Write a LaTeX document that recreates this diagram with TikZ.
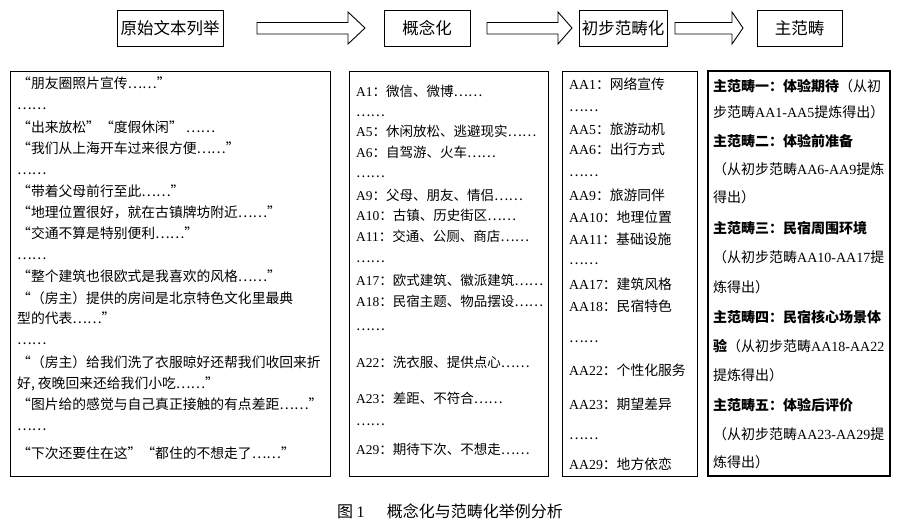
\documentclass[tikz,border=0pt]{standalone}
\usepackage{fontspec}
\setmainfont{Noto Sans CJK SC}
\newfontfamily\latf{Liberation Serif}
\newcommand\La[1]{{\latf #1}}
\newcommand\barrow[3]{\draw[blockarrow] (#1,22.5) -- (#2,22.5) -- (#2,12) -- (#3,28) -- (#2,44) -- (#2,34) -- (#1,34) -- cycle;}
\tikzset{
  topbox/.style={draw, line width=0.9pt, inner sep=0pt, minimum height=36pt, font=\fontsize{16.5}{18}\selectfont},
  bigbox/.style={draw, line width=0.9pt, inner sep=0pt},
  blockarrow/.style={draw, line width=0.9pt, line join=miter},
  lineA/.style={anchor=base west, inner sep=0pt, font=\fontsize{13.8}{15}\selectfont},
  lineB/.style={anchor=base west, inner sep=0pt, font=\fontsize{13.5}{15}\selectfont},
  lineC/.style={anchor=base west, inner sep=0pt, font=\fontsize{13.8}{15}\selectfont},
  lineD/.style={anchor=base west, inner sep=0pt, font=\fontsize{14}{16}\selectfont},
}
\begin{document}
\begin{tikzpicture}[x=1pt,y=-1pt]
\useasboundingbox (0,0) rectangle (899,529);
% top row
\node[topbox, minimum width=106pt] (t1) at (170,28) {原始文本列举};
\node[topbox, minimum width=86pt] (t2) at (427,28) {概念化};
\node[topbox, minimum width=88pt] (t3) at (623,28) {初步范畴化};
\node[topbox, minimum width=85pt] (t4) at (799.5,28) {主范畴};
\barrow{257}{348}{365}
\barrow{487}{558}{572}
\barrow{675}{732}{743}
% big boxes
\node[bigbox, minimum width=320pt, minimum height=405pt] (c1) at (170,273.5) {};
\node[bigbox, minimum width=199pt, minimum height=405pt] (c2) at (448.5,273.5) {};
\node[bigbox, minimum width=135pt, minimum height=405pt] (c3) at (629.5,273.5) {};
\node[bigbox, minimum width=182pt, minimum height=405pt, line width=1.2pt] (c4) at (799,273.5) {};
% column 1
\foreach \yy/\tt [count=\i] in {
 84/{“朋友圈照片宣传……”},
 105/{……},
 128/{“出来放松”“度假休闲” ……},
 149/{“我们从上海开车过来很方便……”},
 170/{……},
 192/{“带着父母前行至此……”},
 213/{“地理位置很好，就在古镇牌坊附近……”},
 234/{“交通不算是特别便利……”},
 255/{……},
 276/{“整个建筑也很欧式是我喜欢的风格……”},
 298/{“（房主）提供的房间是北京特色文化里最典},
 318/{型的代表……”},
 339/{……},
 362/{“（房主）给我们洗了衣服晾好还帮我们收回来折},
 383/{好, 夜晚回来还给我们小吃……”},
 404/{“图片给的感觉与自己真正接触的有点差距……”},
 425/{……},
 453/{“下次还要住在这”“都住的不想走了……”}}
 \node[lineA] (a\i) at (17,\yy+5) {\tt};
% column 2
\foreach \yy/\tt [count=\i] in {
 92/{\La{A1}：微信、微博……},
 112/{……},
 132/{\La{A5}：休闲放松、逃避现实……},
 153/{\La{A6}：自驾游、火车……},
 173/{……},
 196/{\La{A9}：父母、朋友、情侣……},
 216/{\La{A10}：古镇、历史街区……},
 237/{\La{A11}：交通、公厕、商店……},
 257/{……},
 280/{\La{A17}：欧式建筑、徽派建筑……},
 301/{\La{A18}：民宿主题、物品摆设……},
 325/{……},
 362/{\La{A22}：洗衣服、提供点心……},
 398/{\La{A23}：差距、不符合……},
 420/{……},
 449/{\La{A29}：期待下次、不想走……}}
 \node[lineB] (b\i) at (356,\yy+5) {\tt};
% column 3
\foreach \yy/\tt [count=\i] in {
 85/{\La{AA1}：网络宣传},
 107/{……},
 130/{\La{AA5}：旅游动机},
 150/{\La{AA6}：出行方式},
 172/{……},
 196/{\La{AA9}：旅游同伴},
 218/{\La{AA10}：地理位置},
 240/{\La{AA11}：基础设施},
 260/{……},
 284/{\La{AA17}：建筑风格},
 306/{\La{AA18}：民宿特色},
 337/{……},
 370/{\La{AA22}：个性化服务},
 404/{\La{AA23}：期望差异},
 434/{……},
 464/{\La{AA29}：地方依恋}}
 \node[lineC] (d\i) at (569,\yy+5) {\tt};
% column 4
\foreach \yy/\tt [count=\i] in {
 87/{\textbf{主范畴一：体验期待}（从初},
 113/{步范畴\La{AA1-AA5}提炼得出）},
 142/{\textbf{主范畴二：体验前准备}},
 170/{（从初步范畴\La{AA6-AA9}提炼},
 198/{得出）},
 229/{\textbf{主范畴三：民宿周围环境}},
 258/{（从初步范畴\La{AA10-AA17}提},
 287/{炼得出）},
 317/{\textbf{主范畴四：民宿核心场景体}},
 346/{\textbf{验}（从初步范畴\La{AA18-AA22}},
 375/{提炼得出）},
 405/{\textbf{主范畴五：体验后评价}},
 434/{（从初步范畴\La{AA23-AA29}提},
 462/{炼得出）}}
 \node[lineD] (e\i) at (713,\yy+5) {\tt};
% caption
\node[inner sep=0pt, font=\fontsize{16}{18}\selectfont] (cap) at (450,511) {图 \La{1}\hspace{1.4em}概念化与范畴化举例分析};
\end{tikzpicture}
\end{document}
